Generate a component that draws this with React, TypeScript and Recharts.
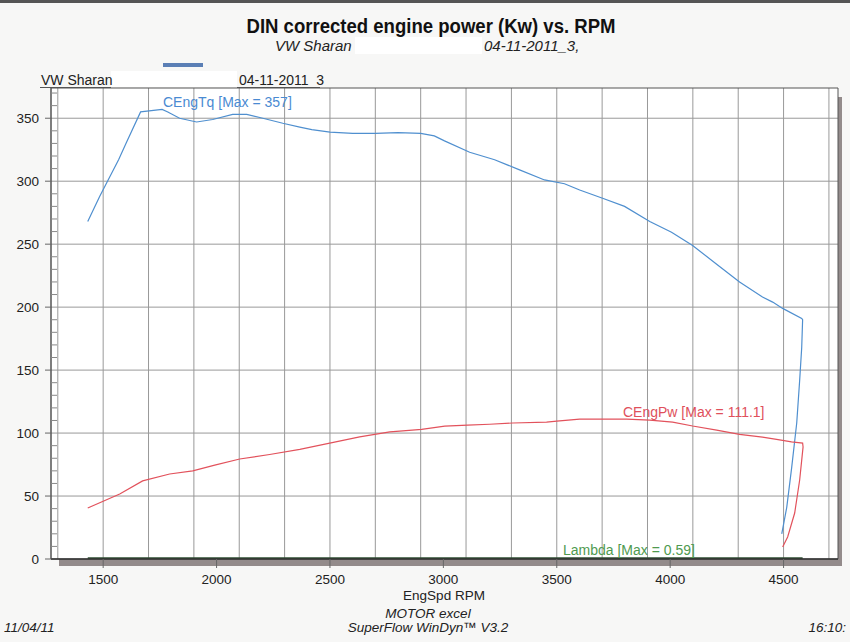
import React from 'react';
import { LineChart, Line, XAxis, YAxis, CartesianGrid, ReferenceArea } from 'recharts';

// Torque curve (Nm) — drawn in recorded order, including the run-down tail
const torqueRpm = [
  1432, 1485, 1568, 1603, 1665, 1760, 1785, 1837, 1912, 1983, 2071, 2133, 2204, 2292, 2367,
  2420, 2500, 2600, 2700, 2800, 2900, 2960, 3005, 3116, 3226, 3336, 3446, 3534, 3601, 3702,
  3799, 3910, 4006, 4099, 4205, 4306, 4407, 4452, 4496, 4580, 4584,
  4580, 4571, 4558, 4536, 4514, 4492,
];
const torqueValues = [
  268, 288, 317, 331, 355, 357, 355, 350, 347, 349, 353, 353, 350, 346, 343,
  341, 339, 338, 338, 338.5, 338, 336, 332, 323, 317, 309, 301, 298, 293, 286.5,
  280, 268, 259.5, 249, 234, 220, 208, 204, 199, 191, 190,
  168, 142, 108, 73, 41, 20,
];

// Power curve (kW)
const powerRpm = [
  1432, 1573, 1674, 1793, 1895, 1992, 2102, 2234, 2367, 2499, 2631, 2764, 2807, 2904, 3006,
  3107, 3204, 3306, 3455, 3500, 3601, 3702, 3808, 3910, 4011, 4099, 4205, 4306, 4407, 4469,
  4535, 4584, 4586,
  4571, 4549, 4518, 4496,
];
const powerValues = [
  40.5, 51.6, 62, 67.5, 70, 74.6, 79.4, 83, 87, 92, 97, 101, 101.5, 103, 105.5,
  106.3, 107, 108, 108.7, 109.5, 111, 111.1, 111, 110.3, 108.7, 105.6, 102.4, 99, 96.8, 95,
  93, 92, 89,
  62.7, 36.5, 17.5, 9.5,
];

// Lambda
const lambdaRpm = [1432, 1800, 2200, 2700, 3200, 3700, 4200, 4584];
const lambdaValues = [0.52, 0.55, 0.57, 0.58, 0.59, 0.58, 0.57, 0.56];

const xTicks = [1500, 2000, 2500, 3000, 3500, 4000, 4500];
const xGridValues = [
  1300, 1400, 1500, 1600, 1700, 1800, 1900, 2000, 2100, 2200, 2300, 2400, 2500, 2600, 2700,
  2800, 2900, 3000, 3100, 3200, 3300, 3400, 3500, 3600, 3700, 3800, 3900, 4000, 4100, 4200,
  4300, 4400, 4500, 4600, 4700,
];
const yTicks = [
  0, 10, 20, 30, 40, 50, 60, 70, 80, 90, 100, 110, 120, 130, 140, 150, 160, 170, 180, 190,
  200, 210, 220, 230, 240, 250, 260, 270, 280, 290, 300, 310, 320, 330, 340, 350, 360, 370,
];
const yGridValues = [50, 100, 150, 200, 250, 300, 350];
const yLabelTicks = [0, 50, 100, 150, 200, 250, 300, 350];

const torqueData = torqueRpm.map((rpm, i) => ({ rpm, value: torqueValues[i] }));
const powerData = powerRpm.map((rpm, i) => ({ rpm, value: powerValues[i] }));
const lambdaData = lambdaRpm.map((rpm, i) => ({ rpm, value: lambdaValues[i] }));

const FONT = '"Liberation Sans", Arial, Helvetica, sans-serif';

const XTick = (props: any) => {
  const { x, y, payload } = props;
  return (
    <g>
      <line x1={x} x2={x} y1={y} y2={y + 9} stroke="#666" strokeWidth={1} />
      <text x={x} y={y + 25} textAnchor="middle" fontFamily={FONT} fontSize={13.5} fill="#222">
        {payload.value}
      </text>
    </g>
  );
};

const YTick = (props: any) => {
  const { x, y, payload } = props;
  const v = payload.value;
  const major = yLabelTicks.indexOf(v) >= 0;
  return (
    <g>
      {major ? (
        <line x1={x - 6} x2={x} y1={y} y2={y} stroke="#666" strokeWidth={1} />
      ) : (
        <line x1={x} x2={x + 6} y1={y} y2={y} stroke="#888" strokeWidth={1} />
      )}
      {major && (
        <text x={x - 12} y={y} dy="0.36em" textAnchor="end" fontFamily={FONT} fontSize={13.5} fill="#222">
          {v}
        </text>
      )}
    </g>
  );
};

export default function App() {
  return (
    <div
      style={{
        position: 'absolute',
        left: 0,
        top: 0,
        width: 850,
        height: 642,
        background: '#f7f7f6',
        overflow: 'hidden',
        fontFamily: FONT,
      }}
    >
      {/* top scan edge */}
      <div style={{ position: 'absolute', left: 0, top: 0, width: 850, height: 3, background: '#555' }} />
      {/* drop shadow of plot frame */}
      <div style={{ position: 'absolute', left: 59, top: 97, width: 783, height: 469, background: '#938b8b' }} />
      <div style={{ position: 'absolute', left: 0, top: 0 }}>
        <LineChart
          width={850}
          height={642}
          margin={{ top: 88, right: 12, bottom: 53, left: 0 }}
        >
          <CartesianGrid
            fill="#ffffff"
            stroke="#999999"
            strokeWidth={1}
            horizontalValues={yGridValues}
            verticalValues={xGridValues}
          />
          <XAxis
            type="number"
            dataKey="rpm"
            domain={[1270, 4740]}
            ticks={xTicks}
            allowDataOverflow
            height={30}
            tickSize={0}
            tickMargin={0}
            tickLine={false}
            tick={<XTick />}
            axisLine={{ stroke: '#333', strokeWidth: 1.5 }}
          />
          <YAxis
            type="number"
            domain={[0, 374]}
            ticks={yTicks}
            allowDataOverflow
            width={51}
            tickSize={0}
            tickMargin={0}
            tickLine={false}
            tick={<YTick />}
            interval={0}
            axisLine={{ stroke: '#555', strokeWidth: 1 }}
          />
          <ReferenceArea x1={1270} x2={4740} y1={0} y2={374} fill="none" stroke="#555" strokeWidth={1} />
          <Line
            data={lambdaData}
            dataKey="value"
            type="linear"
            stroke="#2f4f33"
            strokeWidth={2}
            dot={false}
            isAnimationActive={false}
          />
          <Line
            data={torqueData}
            dataKey="value"
            type="linear"
            stroke="#4f8fcf"
            strokeWidth={1.2}
            dot={false}
            isAnimationActive={false}
          />
          <Line
            data={powerData}
            dataKey="value"
            type="linear"
            stroke="#e2525c"
            strokeWidth={1.2}
            dot={false}
            isAnimationActive={false}
          />
        </LineChart>
      </div>
      <svg
        width={850}
        height={642}
        style={{ position: 'absolute', left: 0, top: 0, pointerEvents: 'none' }}
      >
        {/* title */}
        <text
          x={431}
          y={33}
          textAnchor="middle"
          fontFamily={FONT}
          fontWeight="bold"
          fontSize={20}
          fill="#111"
          textLength={369}
          lengthAdjust="spacingAndGlyphs"
        >
          DIN corrected engine power (Kw) vs. RPM
        </text>
        <rect x={355} y={37} width={127} height={17} fill="#ffffff" />
        <text x={275} y={51} fontFamily={FONT} fontStyle="italic" fontSize={15} fill="#222">
          VW Sharan
        </text>
        <text x={484} y={51} fontFamily={FONT} fontStyle="italic" fontSize={15} fill="#222">
          04-11-2011_3,
        </text>
        {/* small blue bar */}
        <rect x={163} y={63} width={40} height={4} fill="#5b7fb5" />
        {/* run label */}
        <rect x={111} y={71} width={126} height={16} fill="#ffffff" />
        <text x={41} y={85} fontFamily={FONT} fontSize={14} fill="#222">
          VW Sharan
        </text>
        <text x={239} y={85} fontFamily={FONT} fontSize={14} fill="#222">
          04-11-2011_3
        </text>
        <line x1={40} x2={111} y1={87.5} y2={87.5} stroke="#555" strokeWidth={1} />
        <line x1={237} x2={320} y1={87.5} y2={87.5} stroke="#555" strokeWidth={1} />
        {/* series labels */}
        <text x={163} y={107} fontFamily={FONT} fontSize={14} fill="#4a8ad2">
          CEngTq [Max = 357]
        </text>
        <text x={623} y={417} fontFamily={FONT} fontSize={14} fill="#e0505b">
          CEngPw [Max = 111.1]
        </text>
        <text x={563} y={555} fontFamily={FONT} fontSize={14} fill="#4f9a4f">
          Lambda [Max = 0.59]
        </text>
        {/* axis title and footer */}
        <text x={444} y={600} textAnchor="middle" fontFamily={FONT} fontSize={13.5} fill="#222">
          EngSpd RPM
        </text>
        <text x={428} y={618} textAnchor="middle" fontFamily={FONT} fontStyle="italic" fontSize={13.5} fill="#222">
          MOTOR excel
        </text>
        <text x={428} y={632} textAnchor="middle" fontFamily={FONT} fontStyle="italic" fontSize={13.5} fill="#222">
          SuperFlow WinDyn™ V3.2
        </text>
        <text x={4} y={632} fontFamily={FONT} fontStyle="italic" fontSize={13.5} fill="#222">
          11/04/11
        </text>
        <text x={846} y={632} textAnchor="end" fontFamily={FONT} fontStyle="italic" fontSize={13.5} fill="#222">
          16:10:
        </text>
      </svg>
    </div>
  );
}
